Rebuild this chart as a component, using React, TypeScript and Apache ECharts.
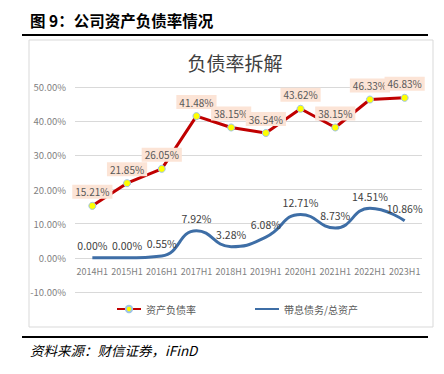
import React, { useEffect, useRef } from "react";
import * as echarts from "echarts";

const categories = ["2014H1", "2015H1", "2016H1", "2017H1", "2018H1", "2019H1", "2020H1", "2021H1", "2022H1", "2023H1"];
const debtRatio = [15.21, 21.85, 26.05, 41.48, 38.15, 36.54, 43.62, 38.15, 46.33, 46.83];
const interestDebt = [0.0, 0.0, 0.55, 7.92, 3.28, 6.08, 12.71, 8.73, 14.51, 10.86];
const seriesNames = ["资产负债率", "带息债务/总资产"];

const FONT = "'Noto Sans CJK SC', 'Noto Sans', sans-serif";

export default function App() {
  const ref = useRef<HTMLDivElement>(null);
  useEffect(() => {
    if (!ref.current) return;
    const chart = echarts.init(ref.current, null, { renderer: "svg" });
    const gridHeight = 205;
    chart.setOption({
      animation: false,
      backgroundColor: "#ffffff",
      textStyle: { fontFamily: FONT },
      title: {
        text: "负债率拆解",
        left: 230,
        textAlign: "center",
        top: 48,
        textStyle: { fontSize: 19, fontWeight: "normal", color: "#404040", fontFamily: FONT },
      },
      graphic: [
        {
          type: "text",
          left: 30,
          top: 12,
          style: { text: "图 9：公司资产负债率情况", fontSize: 15.5, fontWeight: "bold", fill: "#000", fontFamily: FONT },
        },
        { type: "line", shape: { x1: 22, y1: 35, x2: 428, y2: 35 }, style: { stroke: "#000", lineWidth: 2 } },
        {
          type: "rect",
          shape: { x: 29, y: 40, width: 404, height: 287 },
          style: { fill: "none", stroke: "#d9d9d9", lineWidth: 1 },
        },
        { type: "line", shape: { x1: 22, y1: 337, x2: 428, y2: 337 }, style: { stroke: "#000", lineWidth: 2 } },
        {
          type: "text",
          left: 30,
          top: 343,
          style: { text: "资料来源：财信证券，iFinD", fontSize: 13.5, fontStyle: "italic", fill: "#000", fontFamily: FONT },
        },
      ],
      legend: {
        top: 299,
        left: 111,
        itemGap: 58,
        itemWidth: 24,
        itemHeight: 8,
        textStyle: { color: "#595959", fontSize: 10, fontFamily: FONT },
        data: [
          { name: seriesNames[0] },
          { name: seriesNames[1], itemStyle: { opacity: 0 } },
        ],
      },
      grid: { left: 75, right: 22, top: 87, height: gridHeight, containLabel: false },
      xAxis: {
        type: "category",
        data: categories,
        boundaryGap: true,
        offset: -gridHeight / 6,
        axisLine: { show: false },
        axisTick: { show: false },
        axisLabel: { color: "#7f7f7f", fontSize: 9, margin: 9, interval: 0 },
      },
      yAxis: {
        type: "value",
        min: -10,
        max: 50,
        interval: 10,
        axisLine: { show: false },
        axisTick: { show: false },
        splitLine: { lineStyle: { color: "#d9d9d9" } },
        axisLabel: { color: "#7f7f7f", fontSize: 9.5, margin: 9, formatter: (v: number) => v.toFixed(2) + "%" },
      },
      series: [
        {
          name: seriesNames[0],
          type: "line",
          data: debtRatio,
          lineStyle: { color: "#C00000", width: 3 },
          itemStyle: { color: "#FFFF00", borderColor: "#9DC3E6", borderWidth: 1 },
          symbol: "circle",
          symbolSize: 7,
          label: {
            show: true,
            position: "top",
            distance: 3,
            formatter: (p: any) => p.value.toFixed(2) + "%",
            color: "#595959",
            fontSize: 10,
            backgroundColor: "#FCE4D6",
            padding: [2, 3],
          },
          z: 3,
        },
        {
          name: seriesNames[1],
          type: "line",
          data: interestDebt,
          smooth: 0.5,
          showSymbol: true,
          symbol: "circle",
          symbolSize: 0.01,
          lineStyle: { color: "#3E6EA6", width: 3 },
          itemStyle: { color: "#3E6EA6" },
          label: {
            show: true,
            position: "top",
            distance: 7,
            formatter: (p: any) => p.value.toFixed(2) + "%",
            color: "#404040",
            fontSize: 10.5,
          },
          z: 2,
        },
      ],
    });
    return () => chart.dispose();
  }, []);
  return (
    <div style={{ position: "absolute", left: 0, top: 0, width: 444, height: 374, background: "#fff" }}>
      <div ref={ref} style={{ width: 444, height: 374 }} />
    </div>
  );
}
